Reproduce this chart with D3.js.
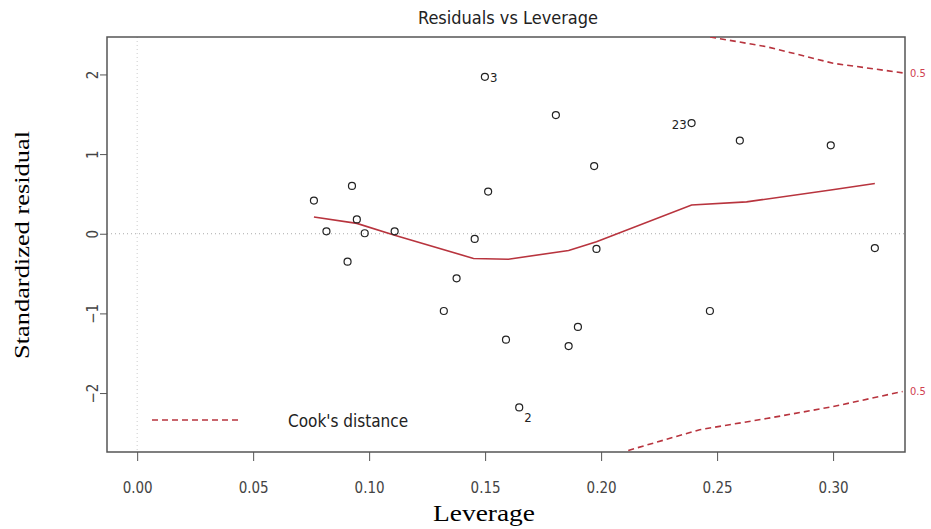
<!DOCTYPE html>
<html>
<head>
<meta charset="utf-8">
<script src="https://cdn.jsdelivr.net/npm/d3@7"></script>
<style>
  body { margin: 0; background: #fff; }
  text { font-family: "DejaVu Sans", sans-serif; font-stretch: condensed; }
</style>
</head>
<body>
<div id="chart"></div>
<script>
// size of plot
const width = 931;
const height = 529;

// data
const leverage = [0.0762, 0.0816, 0.0926, 0.0947, 0.0907, 0.0981, 0.111, 0.1322,
  0.1377, 0.1455, 0.1499, 0.1513, 0.159, 0.1647, 0.1805, 0.186, 0.190, 0.197,
  0.198, 0.239, 0.2469, 0.2598, 0.299, 0.318];
const stdResid = [0.416, 0.03, 0.60, 0.18, -0.35, 0.006, 0.03, -0.97,
  -0.56, -0.065, 1.97, 0.53, -1.33, -2.18, 1.49, -1.41, -1.17, 0.85,
  -0.19, 1.39, -0.97, 1.17, 1.11, -0.18];
const pointLabels = ["", "", "", "", "", "", "", "", "", "", "3", "", "", "2",
  "", "", "", "", "", "23", "", "", "", ""];

// red smoother
const smoothX = [0.0762, 0.0947, 0.111, 0.145, 0.160, 0.186, 0.198, 0.239, 0.2627, 0.299, 0.318];
const smoothY = [0.21, 0.13, -0.02, -0.31, -0.32, -0.21, -0.10, 0.36, 0.40, 0.55, 0.63];

// Cook's distance 0.5 contours
const cookUpX = [0.247, 0.271, 0.285, 0.300, 0.330];
const cookUpY = [2.47, 2.35, 2.25, 2.14, 2.02];
const cookLoX = [0.2117, 0.2425, 0.2713, 0.300, 0.330];
const cookLoY = [-2.72, -2.46, -2.32, -2.17, -1.98];

const xTicks = [0, 0.05, 0.10, 0.15, 0.20, 0.25, 0.30];
const yTicks = [-2, -1, 0, 1, 2];

const pLeft = 107, pRight = 905, pTop = 37, pBottom = 452;
const red = "#b8343e";

const x = d3.scaleLinear().domain([-0.013, 0.331]).range([pLeft, pRight]);
const y = d3.scaleLinear().domain([-2.74, 2.47]).range([pBottom, pTop]);

const svg = d3.select("#chart").append("svg")
    .attr("width", width)
    .attr("height", height);

svg.append("clipPath").attr("id", "clip")
  .append("rect")
    .attr("x", pLeft).attr("y", pTop)
    .attr("width", pRight - pLeft).attr("height", pBottom - pTop);

// reference lines
svg.append("line")
    .attr("x1", pLeft).attr("x2", pRight)
    .attr("y1", y(0)).attr("y2", y(0))
    .attr("stroke", "#aaa").attr("stroke-dasharray", "1,3");
svg.append("line")
    .attr("x1", x(0)).attr("x2", x(0))
    .attr("y1", pTop).attr("y2", pBottom)
    .attr("stroke", "#ccc").attr("stroke-dasharray", "1,3");

// title
svg.append("text")
    .attr("x", 508).attr("y", 24)
    .attr("text-anchor", "middle")
    .attr("font-size", 18)
    .attr("fill", "#222")
    .text("Residuals vs Leverage");

// axes
const xAxis = svg.append("g")
    .attr("transform", `translate(0,${pBottom})`)
    .call(d3.axisBottom(x).tickValues(xTicks).tickFormat(d3.format(".2f")).tickSize(9).tickSizeOuter(0));
xAxis.select(".domain").remove();
xAxis.selectAll("line").attr("stroke", "#555");
xAxis.selectAll("text")
    .attr("font-size", 15).attr("fill", "#444")
    .attr("y", 36).attr("dy", "0.35em");

const yAxis = svg.append("g")
    .attr("transform", `translate(${pLeft},0)`)
    .call(d3.axisLeft(y).tickValues(yTicks).tickFormat(d3.format("d")).tickSize(7).tickSizeOuter(0));
yAxis.select(".domain").remove();
yAxis.selectAll("line").attr("stroke", "#555");
yAxis.selectAll("text")
    .attr("font-size", 15).attr("fill", "#444")
    .attr("x", null)
    .attr("text-anchor", "middle")
    .attr("transform", "translate(-14,0) rotate(-90)")
    .attr("dy", "0.35em");

// box
svg.append("rect")
    .attr("x", pLeft).attr("y", pTop)
    .attr("width", pRight - pLeft).attr("height", pBottom - pTop)
    .attr("fill", "none").attr("stroke", "#555").attr("stroke-width", 1.5);

// axis titles
svg.append("text")
    .attr("x", 484).attr("y", 521)
    .attr("text-anchor", "middle")
    .attr("font-size", 23)
    .attr("textLength", 102)
    .attr("lengthAdjust", "spacingAndGlyphs")
    .style("font-family", "'Liberation Serif', 'DejaVu Serif', serif")
    .style("font-stretch", "normal")
    .text("Leverage");
svg.append("text")
    .attr("transform", "translate(29,245) rotate(-90)")
    .attr("text-anchor", "middle")
    .attr("font-size", 22)
    .attr("textLength", 228)
    .attr("lengthAdjust", "spacingAndGlyphs")
    .style("font-family", "'Liberation Serif', 'DejaVu Serif', serif")
    .style("font-stretch", "normal")
    .text("Standardized residual");

const plot = svg.append("g").attr("clip-path", "url(#clip)");

const line = d3.line().x(d => x(d[0])).y(d => y(d[1]));

// Cook's distance curves
plot.append("path")
    .datum(d3.zip(cookUpX, cookUpY))
    .attr("d", line)
    .attr("fill", "none").attr("stroke", red).attr("stroke-width", 1.6)
    .attr("stroke-dasharray", "6,4");
plot.append("path")
    .datum(d3.zip(cookLoX, cookLoY))
    .attr("d", line)
    .attr("fill", "none").attr("stroke", red).attr("stroke-width", 1.6)
    .attr("stroke-dasharray", "6,4");

svg.selectAll(".cooklab")
  .data([cookUpY[cookUpY.length - 1], cookLoY[cookLoY.length - 1]])
  .enter().append("text")
    .attr("x", pRight + 5).attr("y", d => y(d))
    .attr("dy", "0.35em")
    .attr("font-size", 11)
    .attr("fill", "#d04050")
    .text("0.5");

// smoother
plot.append("path")
    .datum(d3.zip(smoothX, smoothY))
    .attr("d", line)
    .attr("fill", "none").attr("stroke", red).attr("stroke-width", 1.6);

// points
const pts = d3.zip(leverage, stdResid, pointLabels);
svg.append("g").selectAll("circle")
  .data(pts)
  .enter().append("circle")
    .attr("cx", d => x(d[0]))
    .attr("cy", d => y(d[1]))
    .attr("r", 3.5)
    .attr("fill", "none")
    .attr("stroke", "#222")
    .attr("stroke-width", 1.2);

// point ids (R places them to the side of the point)
svg.append("g").selectAll("text")
  .data(pts.filter(d => d[2] !== ""))
  .enter().append("text")
    .attr("x", d => d[2] === "23" ? x(d[0]) - 5 : x(d[0]) + 5)
    .attr("y", d => d[2] === "2" ? y(d[1]) + 10 : y(d[1]) + 1)
    .attr("dy", "0.35em")
    .attr("text-anchor", d => d[2] === "23" ? "end" : "start")
    .attr("font-size", 13)
    .attr("fill", "#222")
    .text(d => d[2]);

// legend
svg.append("line")
    .attr("x1", 152).attr("x2", 241)
    .attr("y1", 420).attr("y2", 420)
    .attr("stroke", red).attr("stroke-width", 1.6)
    .attr("stroke-dasharray", "6,4");
svg.append("text")
    .attr("x", 288).attr("y", 421)
    .attr("dy", "0.35em")
    .attr("font-size", 17)
    .attr("fill", "#222")
    .text("Cook's distance");
</script>
</body>
</html>
